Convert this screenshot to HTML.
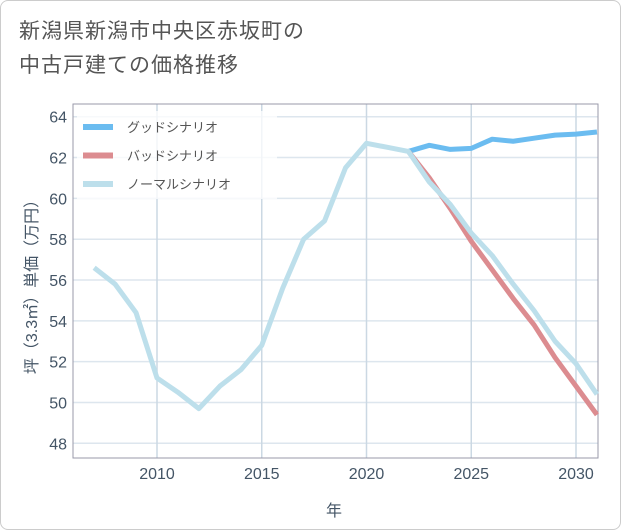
<!DOCTYPE html>
<html><head><meta charset="utf-8"><style>
body{margin:0;background:#fff;}
#card{position:relative;width:619px;height:528px;border:1px solid #ccc;border-radius:8px;background:#fff;overflow:hidden;font-family:"Liberation Sans","Noto Sans CJK JP",sans-serif;}
#title{position:absolute;left:18px;top:14px;font-size:21px;line-height:34px;color:#555;letter-spacing:1px;}
svg text{font-family:"Liberation Sans","Noto Sans CJK JP",sans-serif;}
</style></head><body>
<div id="card">
<div id="title">新潟県新潟市中央区赤坂町の<br>中古戸建ての価格推移</div>
<svg id="chart" width="621" height="530" style="position:absolute;left:0;top:0"></svg>
</div>
<script>
const years=[2007,2008,2009,2010,2011,2012,2013,2014,2015,2016,2017,2018,2019,2020,2021,2022,2023,2024,2025,2026,2027,2028,2029,2030,2031];
const normalValues=[56.6,55.8,54.4,51.2,50.5,49.7,50.8,51.6,52.8,55.6,58.0,58.9,61.5,62.7,62.5,62.3,60.8,59.7,58.3,57.2,55.8,54.5,53.0,51.9,50.4];
const goodYears=[2022,2023,2024,2025,2026,2027,2028,2029,2030,2031];
const goodValues=[62.3,62.6,62.4,62.45,62.9,62.8,62.95,63.1,63.15,63.25];
const badYears=[2022,2023,2024,2025,2026,2027,2028,2029,2030,2031];
const badValues=[62.3,61.0,59.5,57.9,56.5,55.1,53.8,52.2,50.8,49.4];
const xTicks=[2010,2015,2020,2025,2030];
const yTicks=[48,50,52,54,56,58,60,62,64];
const svg=document.getElementById('chart');
const NS='http://www.w3.org/2000/svg';
const L=72,R=597,T=103,B=457;
function x(v){return 156+(v-2010)*20.95;}
function y(v){return 442.3-(v-48)*20.41;}
function mk(t,a){const e=document.createElementNS(NS,t);for(const k in a)e.setAttribute(k,a[k]);svg.appendChild(e);return e;}
for(const v of yTicks){
 const g=mk('line',{x1:L,x2:R,y1:y(v),y2:y(v),stroke:'#dde6ee','stroke-width':1.5});
 
 
 const t=mk('text',{x:66,y:y(v)+6,'text-anchor':'end','font-size':16,fill:'#456'});
 t.textContent=v;
 
 
}
for(const v of xTicks){
 const g=mk('line',{x1:x(v),x2:x(v),y1:T,y2:B,stroke:'#cbd8e3','stroke-width':1.5});
 
 
 const t=mk('text',{x:x(v),y:478,'text-anchor':'middle','font-size':16,fill:'#456'});
 t.textContent=v;
 
 
}
const fr=mk('rect',{x:L,y:T,width:R-L,height:B-T,fill:'none',stroke:'#99a','stroke-width':1});


function line(xs,vs,c,name){
 const p=mk('polyline',{points:xs.map((a,i)=>x(a)+','+y(vs[i])).join(' '),fill:'none',stroke:c,'stroke-width':5,'stroke-linejoin':'round'});
 
 
}
line(goodYears,goodValues,'#6bbcf0','good-scenario-line');
line(badYears,badValues,'#dc8c90','bad-scenario-line');
line(years,normalValues,'#bddfeb','normal-scenario-line');
const leg=[['グッドシナリオ','#6bbcf0'],['バッドシナリオ','#dc8c90'],['ノーマルシナリオ','#bddfeb']];
const lb=mk('rect',{x:76,y:110,width:200,height:88,fill:'#fff','fill-opacity':0.75});


leg.forEach((l,i)=>{
 const yy=126+i*28.5;
 const s=mk('line',{x1:82,x2:112,y1:yy,y2:yy,stroke:l[1],'stroke-width':6});
 
 
 const t=mk('text',{x:126,y:yy+5,'font-size':13,fill:'#555'});
 t.textContent=l[0];
 
 
});
const xt=mk('text',{x:333,y:515,'text-anchor':'middle','font-size':16,fill:'#456'});
xt.textContent='年';


const yt=mk('text',{x:0,y:0,'text-anchor':'middle','font-size':16,fill:'#456',transform:'translate(36,282) rotate(-90)'});
yt.textContent='坪（3.3㎡）単価（万円）';


</script>
</body></html>
